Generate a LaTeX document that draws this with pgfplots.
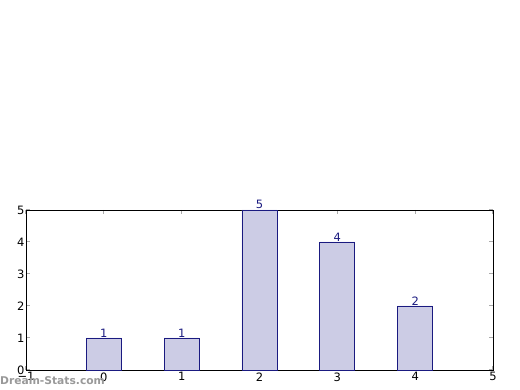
\documentclass[border=0pt]{standalone}
\usepackage{pgfplots}
\pgfplotsset{compat=1.18}
\usepackage{fontspec}
\setmainfont{DejaVu Sans}
\definecolor{barfill}{HTML}{CCCCE5}
\definecolor{baredge}{HTML}{1A1A80}
\definecolor{tickgray}{HTML}{AAAAAA}
\definecolor{wmgray}{HTML}{999999}
\begin{document}
\begin{tikzpicture}[x=1pt,y=1pt]
\path (0,0) rectangle (520,390);
\begin{axis}[
  at={(26pt,20pt)}, anchor=south west,
  width=467pt, height=160pt, scale only axis,
  xmin=-1, xmax=5, ymin=0, ymax=5,
  xtick={-1,0,1,2,3,4,5}, ytick={0,1,2,3,4,5},
  xticklabels={−1,0,1,2,3,4,5},
  tick align=inside,
  major tick length=4pt,
  tick style={tickgray, line width=1pt},
  axis line style={black, line width=0.8pt},
  tick label style={font=\fontsize{11.5}{13}\selectfont, black},
  /pgf/number format/assume math mode=true,
  xticklabel style={yshift=1pt},
  yticklabel style={xshift=2pt},
  clip=false,
]
\addplot[ybar, bar width=0.45, fill=barfill, draw=baredge, line width=0.8pt,
  nodes near coords,
  every node near coord/.append style={font=\fontsize{11.5}{13}\selectfont, text=baredge, anchor=south, inner sep=0.5pt}]
  coordinates {(0,1) (1,1) (2,5) (3,4) (4,2)};
\end{axis}
\node[anchor=base west, inner sep=0pt, text=wmgray, font=\bfseries\fontsize{10.7}{13}\selectfont] at (0,5) {Dream-Stats.com};
\end{tikzpicture}
\end{document}
